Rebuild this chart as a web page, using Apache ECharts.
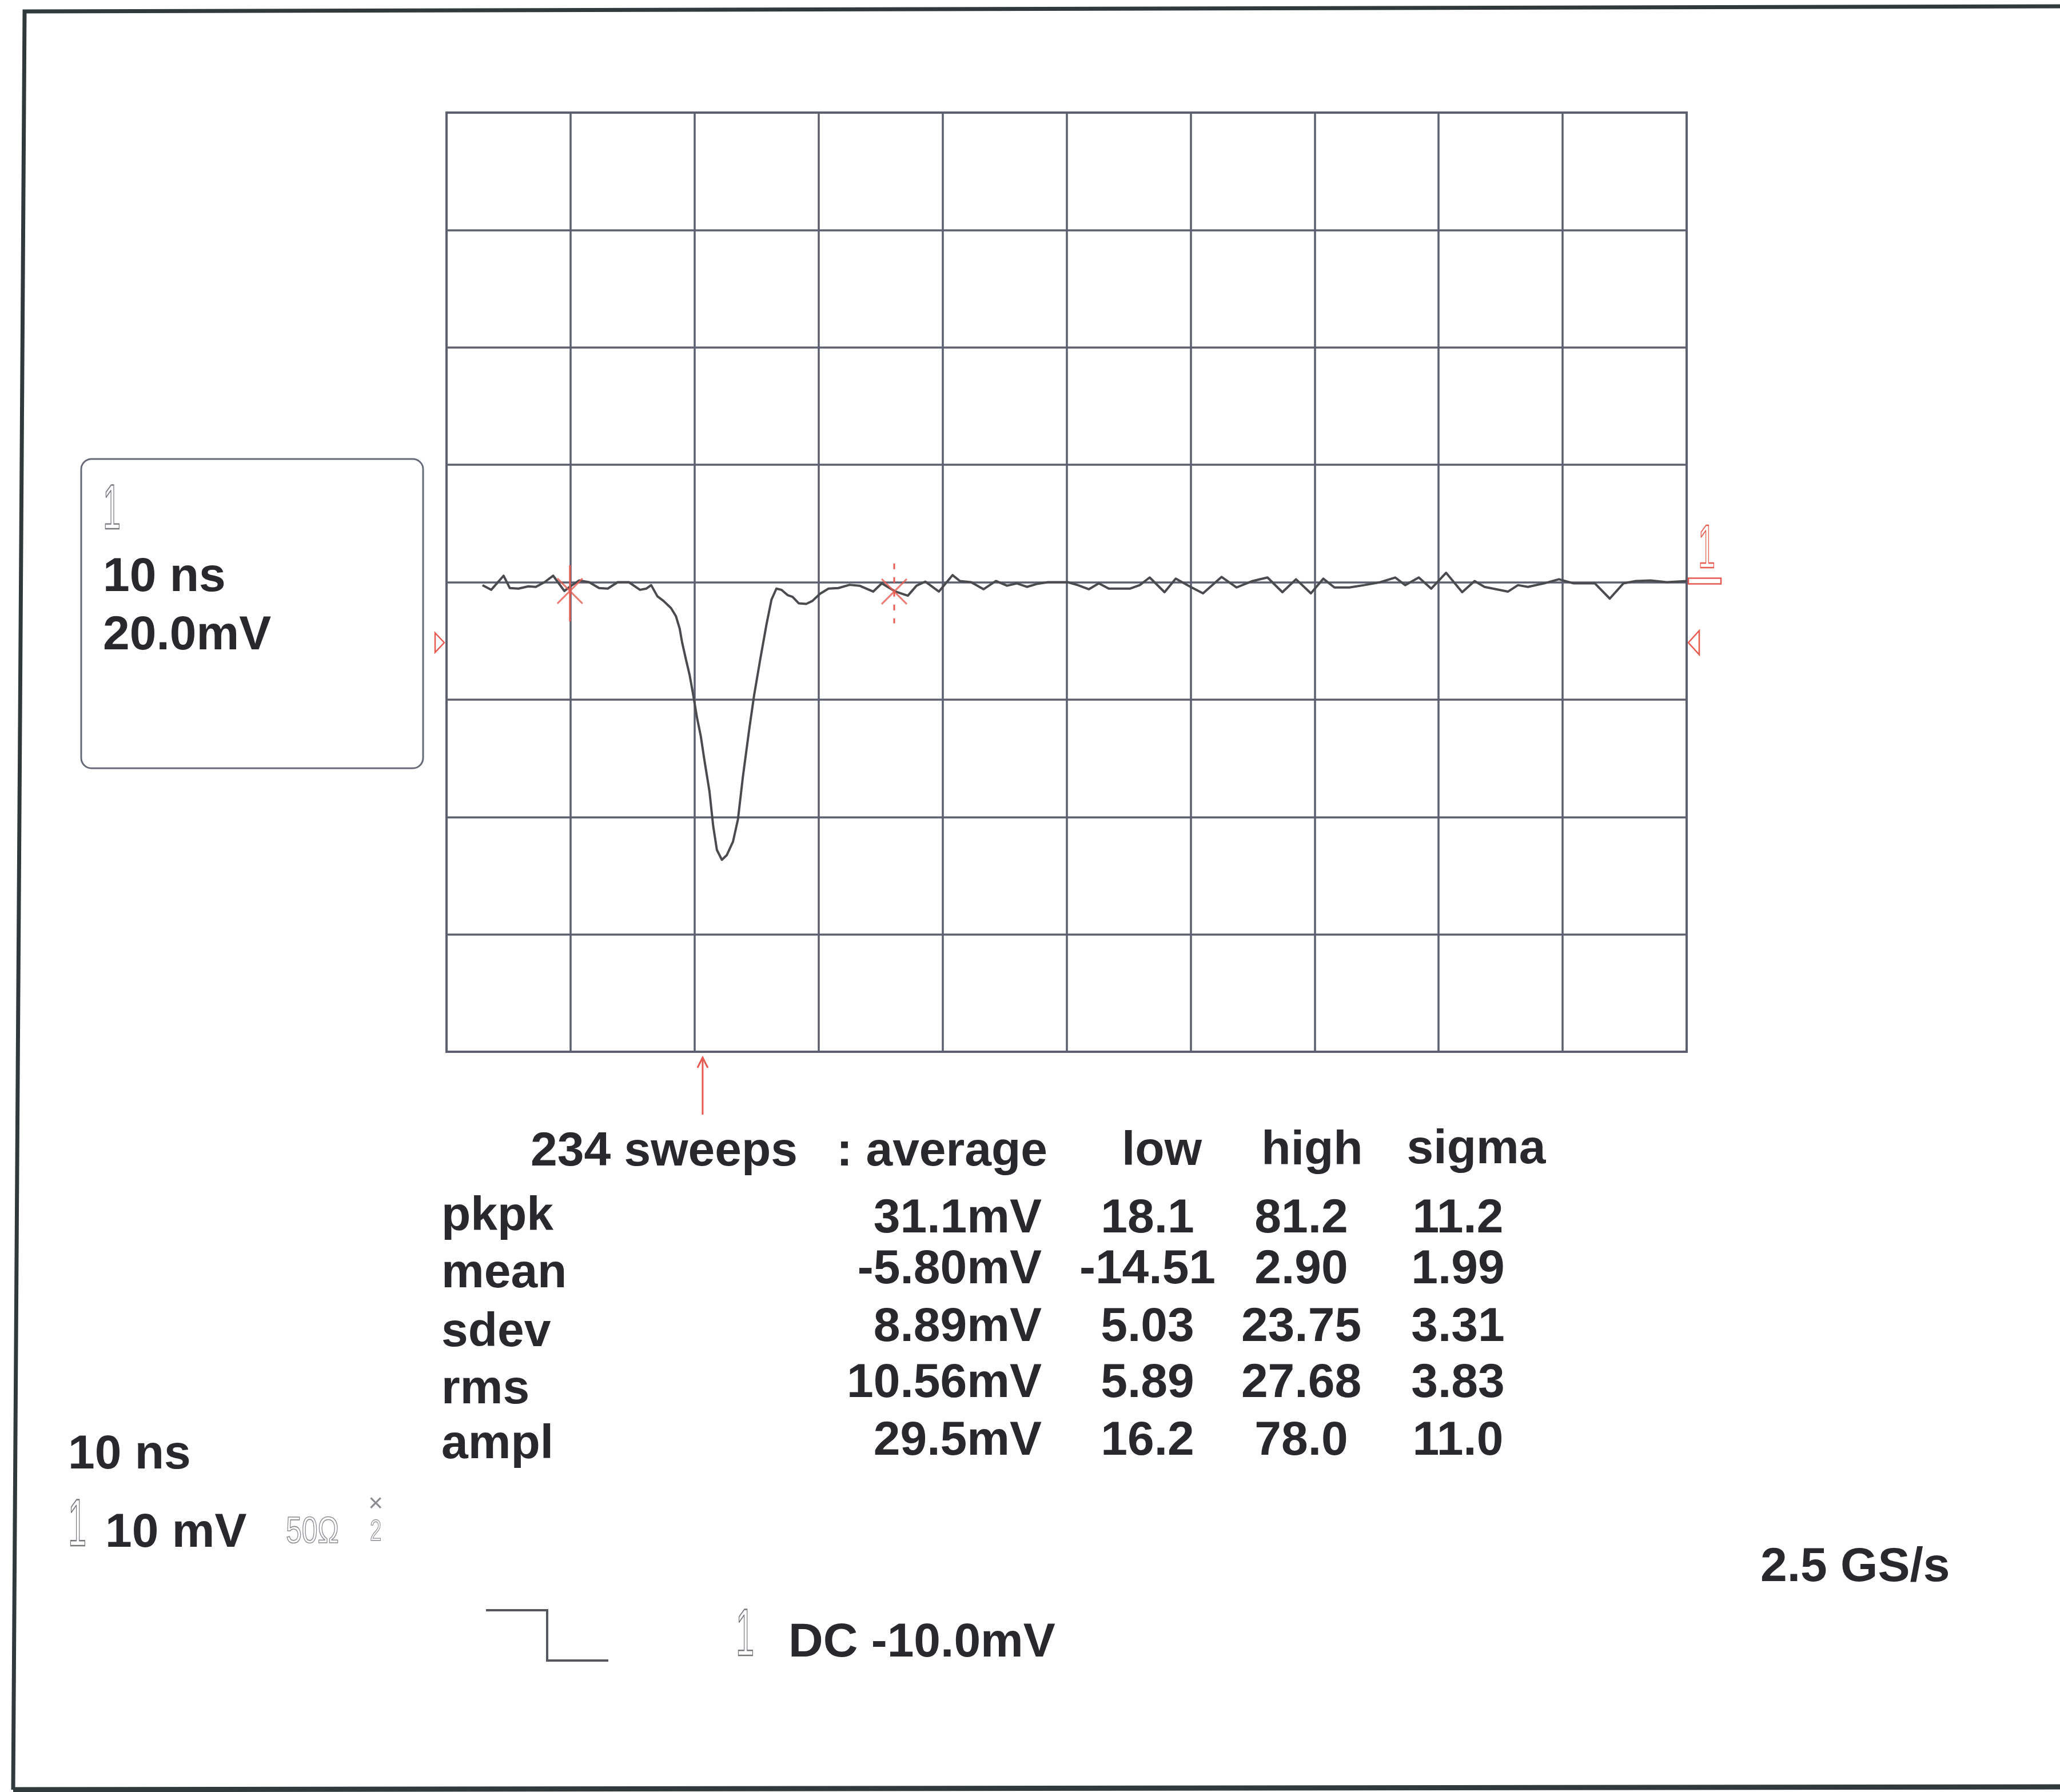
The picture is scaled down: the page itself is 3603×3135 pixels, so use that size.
<!DOCTYPE html>
<html><head><meta charset="utf-8">
<script src="https://cdn.jsdelivr.net/npm/echarts@6/dist/echarts.min.js"></script>
<style>html,body{margin:0;padding:0;background:#fff}#c{width:3603px;height:3135px}</style>
</head><body><div id="c"></div>
<script>
// ---- data (read from the scope print) ----
const timeNs = [2.9,3.6,4.6,5.1,5.8,6.6,7.2,7.9,8.6,9.5,10.0,10.7,11.5,12.3,13.0,13.8,14.7,15.6,16.1,16.5,17.0,17.5,18.1,18.5,18.8,19.0,19.3,19.6,19.9,20.2,20.5,20.8,21.2,21.5,21.8,22.2,22.6,23.1,23.5,23.9,24.4,24.8,25.3,25.8,26.2,26.6,27.0,27.5,27.9,28.4,29.0,29.5,30.1,30.8,31.6,32.5,33.3,34.4,35.1,36.2,37.2,37.9,38.6,39.7,40.8,41.4,42.3,43.3,44.3,45.2,46.0,46.8,47.6,48.5,50.1,50.9,51.8,52.6,53.4,55.1,55.9,56.7,57.9,58.8,60.0,61.0,62.5,63.7,65.0,66.2,67.4,68.5,69.7,70.7,71.6,72.8,74.0,75.3,76.5,77.3,78.4,79.4,80.6,81.9,82.9,83.7,85.6,86.4,87.2,88.5,89.7,90.9,92.6,93.8,94.9,95.9,97.1,98.4,100];
const voltageMv = [-0.5,-1.3,1.1,-1.0,-1.1,-0.7,-0.8,0,1.1,-1.5,-0.7,0.3,0,-1.0,-1.1,0,0,-1.3,-1.1,-0.5,-2.4,-3.2,-4.4,-5.8,-7.9,-10.3,-13.1,-15.8,-19.3,-23.1,-26.2,-30.4,-35.6,-41.5,-45.6,-47.3,-46.5,-44.2,-40.4,-33.1,-25.2,-19.3,-13.1,-7.2,-3.0,-1.1,-1.3,-2.2,-2.5,-3.6,-3.7,-3.2,-2.0,-1.1,-1.0,-0.45,-0.6,-1.6,-0.2,-1.6,-2.3,-0.6,0.1,-1.6,1.2,0.2,0,-1.2,0.2,-0.6,-0.2,-0.8,-0.3,0,0,-0.5,-1.2,-0.2,-1.1,-1.1,-0.5,0.8,-1.7,0.6,-0.8,-1.9,0.9,-0.9,0.2,0.8,-1.7,0.5,-1.9,0.6,-0.9,-0.9,-0.5,0,0.8,-0.5,0.8,-1.1,1.6,-1.7,0.2,-0.8,-1.6,-0.5,-0.8,-0.2,0.5,-0.2,-0.2,-2.8,-0.2,0.2,0.3,0,0.2];
const xTicksNs = [0,10,20,30,40,50,60,70,80,90,100];
const yTicksMv = [-80,-60,-40,-20,0,20,40,60,80];
const cursorTimesNs = [9.95, 36.1];
const cursorMarkMv = [-1.5, -1.6];
const cursorTopMv = [2.9, 3.2];
const cursorBottomMv = [-6.7, -7.0];
const triggerTimeNs = 20.65;
const triggerLevelMv = 0.2;
const groundLevelMv = -10.3;
const boxLines = ['10 ns', '20.0mV'];
const statHeader = ['234 sweeps', ': average', 'low', 'high', 'sigma'];
const statRows = ['pkpk', 'mean', 'sdev', 'rms', 'ampl'];
const statAverage = ['31.1mV', '-5.80mV', '8.89mV', '10.56mV', '29.5mV'];
const statLow = ['18.1', '-14.51', '5.03', '5.89', '16.2'];
const statHigh = ['81.2', '2.90', '23.75', '27.68', '78.0'];
const statSigma = ['11.2', '1.99', '3.31', '3.83', '11.0'];
const footTimebase = '10 ns';
const footChannel = '10 mV';
const footImpedance = '50\u03A9';
const footRate = '2.5 GS/s';
const footTrigger = 'DC -10.0mV';

// ---- styling ----
const GRID = {left: 781, top: 197, width: 2169, height: 1643};
const INK = '#29292d', GRIDC = '#5c5f70', TRACE = '#4a4b4f', RED = '#e65a50', THIN = '#77787e';
const FS = 84;
const MID = 0.345;

function T(text, x, base, align, opt) {
  opt = opt || {};
  const fs = opt.fs || FS;
  const font = opt.font || ('bold ' + fs + 'px "Liberation Sans", Arial, sans-serif');
  const style = {text: text, font: font, fill: opt.fill || INK, align: align, verticalAlign: 'middle'};
  if (opt.stroke) { style.fill = 'none'; style.stroke = opt.stroke; style.lineWidth = opt.lw || 2; }
  const el = {type: 'text', x: x, y: base - MID * fs, style: style, z: 20, silent: true};
  if (opt.sx) el.scaleX = opt.sx;
  return el;
}
function thinOne(x, base, fs, color) {
  return T('1', x, base, 'left', {fs: fs, font: fs + 'px "Liberation Sans", Arial, sans-serif', stroke: color, lw: 2.4, sx: 0.5});
}

const chart = echarts.init(document.getElementById('c'), null, {renderer: 'canvas'});
chart.setOption({
  animation: false,
  backgroundColor: '#ffffff',
  grid: {left: GRID.left, top: GRID.top, width: GRID.width, height: GRID.height, show: true,
         borderColor: GRIDC, borderWidth: 4, backgroundColor: 'transparent'},
  xAxis: {type: 'value', min: xTicksNs[0], max: xTicksNs[xTicksNs.length - 1], interval: xTicksNs[1] - xTicksNs[0],
          axisLabel: {show: false}, axisTick: {show: false}, axisLine: {show: false},
          splitLine: {show: true, lineStyle: {color: GRIDC, width: 3.5}}},
  yAxis: {type: 'value', min: yTicksMv[0], max: yTicksMv[yTicksMv.length - 1], interval: yTicksMv[1] - yTicksMv[0],
          axisLabel: {show: false}, axisTick: {show: false}, axisLine: {show: false},
          splitLine: {show: true, lineStyle: {color: GRIDC, width: 3.5}}},
  series: [
    {type: 'line', data: timeNs.map((t, i) => [t, voltageMv[i]]), showSymbol: false, silent: true,
     lineStyle: {color: TRACE, width: 4, join: 'round'}, z: 5},
    {type: 'line', data: [[cursorTimesNs[0], cursorTopMv[0]], [cursorTimesNs[0], cursorBottomMv[0]]], showSymbol: false, silent: true,
     lineStyle: {color: RED, width: 3}, z: 6},
    {type: 'line', data: [[cursorTimesNs[1], cursorTopMv[1]], [cursorTimesNs[1], cursorBottomMv[1]]], showSymbol: false, silent: true,
     lineStyle: {color: RED, width: 3, type: [10, 14]}, z: 6},
    {type: 'scatter', data: cursorTimesNs.map((t, i) => [t, cursorMarkMv[i]]), silent: true,
     symbol: 'path://M0,0L10,10M10,0L0,10', symbolSize: [44, 44],
     itemStyle: {color: 'none', borderColor: RED, borderWidth: 3}, z: 7}
  ]
});

const px = (t, v) => chart.convertToPixel({gridIndex: 0}, [t, v]);
const g = [];
// outer frame of the print
g.push({type: 'polyline', shape: {points: [[3603, 11], [43, 20], [23, 3131]]}, style: {stroke: '#303a3c', lineWidth: 7, fill: 'none'}});
g.push({type: 'polyline', shape: {points: [[23, 3131], [3603, 3126]]}, style: {stroke: '#303a3c', lineWidth: 9, fill: 'none'}});
// info box
g.push({type: 'rect', shape: {x: 142, y: 803, width: 598, height: 541, r: 18}, style: {stroke: '#676a78', lineWidth: 3, fill: 'none'}});
g.push(thinOne(180, 933, 112, THIN));
g.push(T(boxLines[0], 180, 1040, 'left'));
g.push(T(boxLines[1], 180, 1142, 'left'));
// ground markers
const gl = px(xTicksNs[0], groundLevelMv), gr = px(xTicksNs[xTicksNs.length - 1], groundLevelMv);
g.push({type: 'polygon', shape: {points: [[gl[0] - 20, gl[1] - 17], [gl[0] - 4, gl[1]], [gl[0] - 20, gl[1] + 17]]}, style: {stroke: RED, lineWidth: 2.5, fill: 'none'}});
g.push({type: 'polygon', shape: {points: [[gr[0] + 22, gr[1] - 21], [gr[0] + 3, gr[1]], [gr[0] + 22, gr[1] + 21]]}, style: {stroke: RED, lineWidth: 2.5, fill: 'none'}});
// trigger level marker on the right
const tl = px(xTicksNs[xTicksNs.length - 1], triggerLevelMv);
g.push({type: 'rect', shape: {x: tl[0] + 3, y: tl[1] - 5, width: 57, height: 10}, style: {stroke: RED, lineWidth: 2.5, fill: 'none'}});
g.push(thinOne(tl[0] + 20, tl[1] - 16, 108, RED));
// trigger time arrow below grid
const ta = px(triggerTimeNs, yTicksMv[0]);
g.push({type: 'polyline', shape: {points: [[ta[0], ta[1] + 10], [ta[0], ta[1] + 110]]}, style: {stroke: RED, lineWidth: 3, fill: 'none'}});
g.push({type: 'polyline', shape: {points: [[ta[0] - 9, ta[1] + 28], [ta[0], ta[1] + 10], [ta[0] + 9, ta[1] + 28]]}, style: {stroke: RED, lineWidth: 3, fill: 'none'}});
// statistics table
g.push(T(statHeader[0], 928, 2045, 'left'));
g.push(T(statHeader[1], 1832, 2045, 'right'));
g.push(T(statHeader[2], 2032, 2044, 'center'));
g.push(T(statHeader[3], 2295, 2043, 'center'));
g.push(T(statHeader[4], 2582, 2041, 'center'));
const labelBase = [2158, 2258, 2361, 2461, 2557];
const valueBase = [2162, 2251, 2352, 2450, 2551];
statRows.forEach((r, i) => {
  g.push(T(r, 772, labelBase[i], 'left'));
  g.push(T(statAverage[i], 1822, valueBase[i], 'right'));
  g.push(T(statLow[i], 2007, valueBase[i], 'center'));
  g.push(T(statHigh[i], 2276, valueBase[i], 'center'));
  g.push(T(statSigma[i], 2550, valueBase[i], 'center'));
});
// footer
g.push(T(footTimebase, 119, 2575, 'left'));
g.push(thinOne(119, 2712, 116, THIN));
g.push(T(footChannel, 184, 2712, 'left'));
g.push(T(footImpedance, 500, 2703, 'left', {fs: 64, font: '64px "Liberation Sans", Arial, sans-serif', stroke: '#8a8b90', lw: 1.6, sx: 0.78}));
g.push(T('\u00D7', 657, 2647, 'center', {fs: 44, font: '44px "Liberation Sans", sans-serif', fill: '#8a8b90'}));
g.push(T('2', 657, 2699, 'center', {fs: 52, font: '52px "Liberation Sans", sans-serif', stroke: '#8a8b90', lw: 1.4, sx: 0.7}));
g.push(T(footRate, 3079, 2772, 'left'));
g.push({type: 'polyline', shape: {points: [[850, 2817], [957, 2817], [957, 2905], [1064, 2905]]}, style: {stroke: '#55575f', lineWidth: 4, fill: 'none'}});
g.push(thinOne(1287, 2904, 116, THIN));
g.push(T(footTrigger, 1379, 2904, 'left'));

chart.setOption({graphic: {elements: g}});
</script></body></html>
